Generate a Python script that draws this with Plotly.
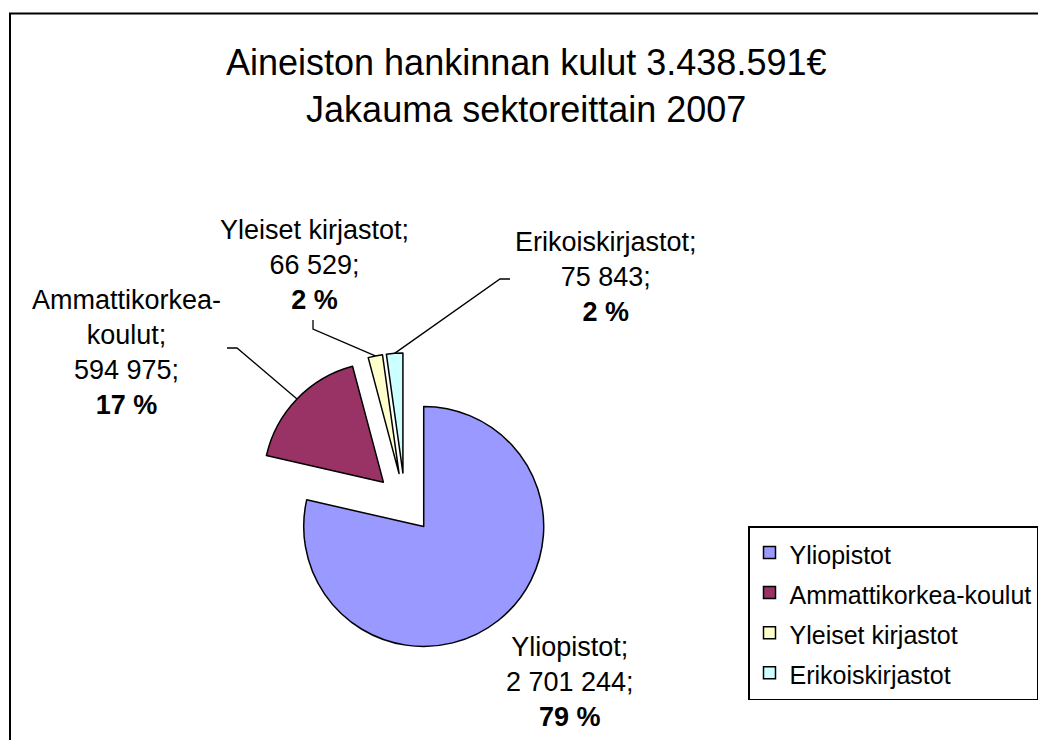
import math
import plotly.graph_objects as go

# ---- data ----
categories = ["Yliopistot", "Ammattikorkea-koulut", "Yleiset kirjastot", "Erikoiskirjastot"]
values = [2701244, 594975, 66529, 75843]
colors = ["#9999FF", "#993366", "#FFFFCC", "#CCFFFF"]
title_lines = ["Aineiston hankinnan kulut 3.438.591€", "Jakauma sektoreittain 2007"]

# ---- layout geometry (pixels) ----
W, H = 1038, 740
PIE_CX, PIE_CY, PIE_R = 405, 503, 120
PULL = 0.25
# label block centres (x, y) and leader-line elbow points
label_pos = [(570, 682), (126, 352), (314, 265), (606, 277)]
leader_elbows = [None, [(237, 348), (227, 348)], [(313, 329), (313, 320)], [(500, 279), (510, 279)]]

FONT = "Liberation Sans, Arial, sans-serif"


def px(x):
    return x / W


def py(y):
    return 1 - y / H


total = sum(values)


def fmt(v):
    return f"{v:,}".replace(",", " ")


legend_labels = [f'<span style="font-size:25px">{c}</span>' for c in categories]

box = PIE_R * (1 + PULL)
fig = go.Figure(
    go.Pie(
        labels=legend_labels,
        values=values,
        sort=False,
        direction="clockwise",
        rotation=0,
        pull=[PULL] * len(values),
        marker=dict(colors=colors, line=dict(color="black", width=1.5)),
        textinfo="none",
        hovertext=categories,
        hoverinfo="text+value+percent",
        domain=dict(x=[px(PIE_CX - box), px(PIE_CX + box)],
                    y=[py(PIE_CY + box), py(PIE_CY - box)]),
        showlegend=True,
    )
)

annotations = []
shapes = []
cum = 0
for i, (cat, v) in enumerate(zip(categories, values)):
    frac = v / total
    mid = (cum + frac / 2) * 2 * math.pi
    cum += frac
    pct = round(frac * 100)
    name = cat.replace("-", "-<br>")
    txt = f"{name};<br>{fmt(v)};<br><b>{pct} %</b>"
    lx, ly = label_pos[i]
    annotations.append(dict(
        x=px(lx), y=py(ly), xref="paper", yref="paper", text=txt, showarrow=False,
        xanchor="center", yanchor="middle", align="center",
        font=dict(family=FONT, size=27, color="black"),
    ))
    if leader_elbows[i]:
        ax = PIE_CX + box * math.sin(mid)
        ay = PIE_CY - box * math.cos(mid)
        pts = [(ax, ay)] + leader_elbows[i]
        path = "M " + " L ".join(f"{px(a)},{py(b)}" for a, b in pts)
        shapes.append(dict(type="path", xref="paper", yref="paper", path=path,
                           line=dict(color="black", width=1.3)))

annotations.append(dict(
    x=px(526), y=py(86), xref="paper", yref="paper",
    text="<br>".join(title_lines), showarrow=False, xanchor="center", yanchor="middle",
    align="center", font=dict(family=FONT, size=36, color="black"),
))

# chart-area border
shapes.append(dict(type="rect", xref="paper", yref="paper",
                   x0=px(10), x1=1.05, y0=-0.05, y1=py(13.5),
                   line=dict(color="black", width=2), fillcolor="rgba(0,0,0,0)"))

fig.update_layout(
    width=W, height=H,
    margin=dict(l=0, r=0, t=0, b=0),
    paper_bgcolor="white", plot_bgcolor="white",
    font=dict(family=FONT, color="black"),
    annotations=annotations,
    shapes=shapes,
    legend=dict(
        x=px(748), y=py(526), xanchor="left", yanchor="top",
        bordercolor="black", borderwidth=1.5, bgcolor="white",
        font=dict(family=FONT, size=28.5, color="black"),
        traceorder="normal",
    ),
)

fig.write_html(
    "out.html",
    config={"displayModeBar": False},
    post_script="document.body.style.margin='0';document.body.style.overflow='hidden';",
)
